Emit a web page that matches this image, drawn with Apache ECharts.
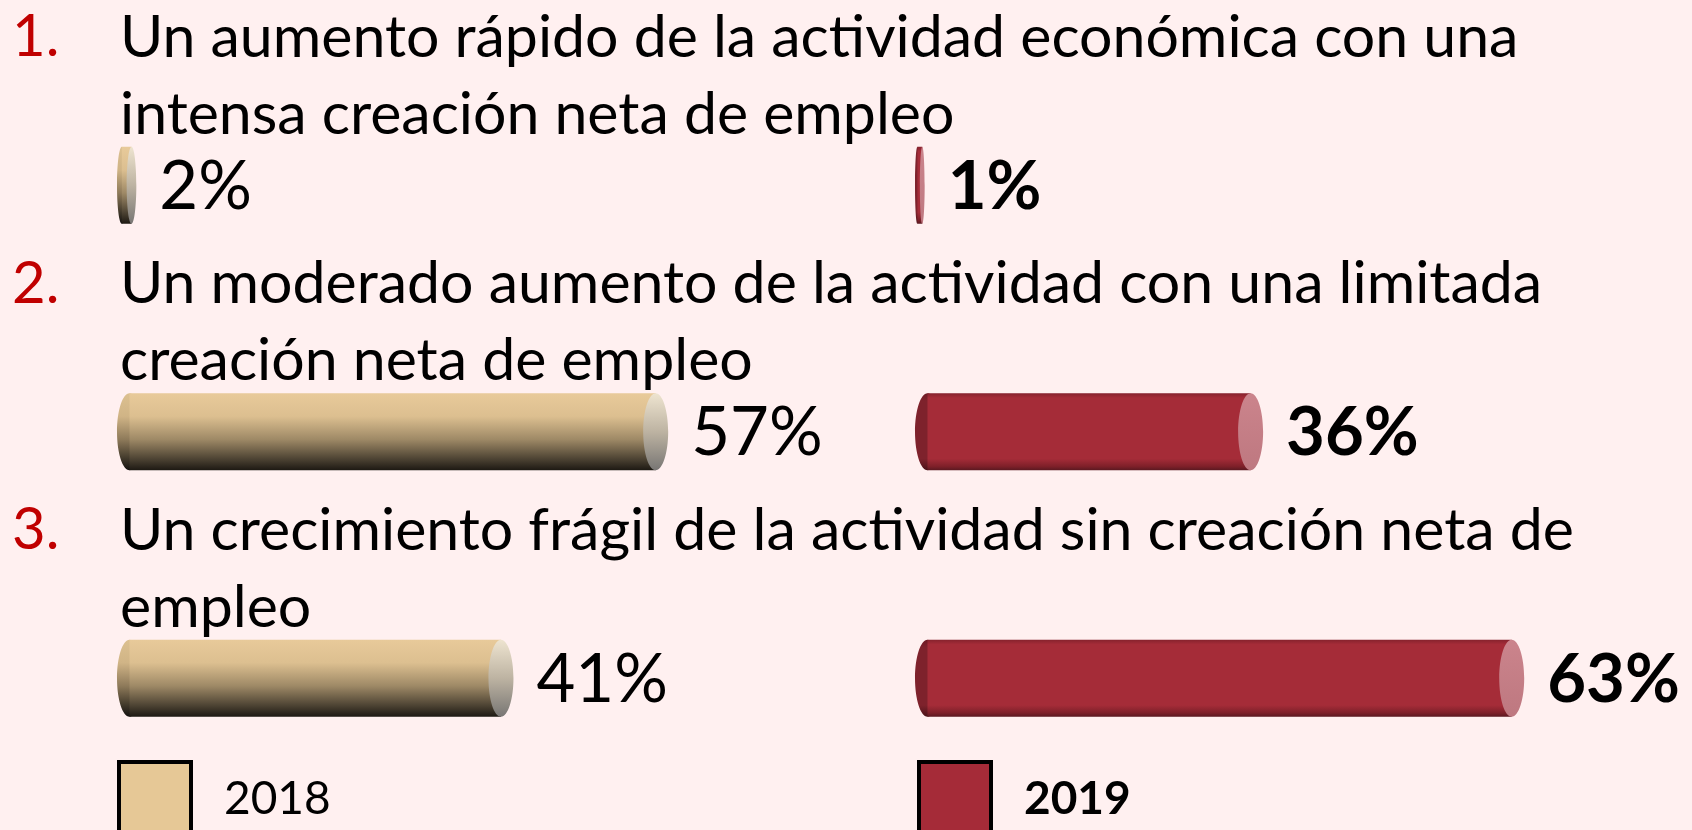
<!DOCTYPE html>
<html>
<head>
<meta charset="utf-8">
<script src="https://cdn.jsdelivr.net/npm/echarts@6/dist/echarts.min.js"></script>
<style>html,body{margin:0;padding:0;background:#FFF0F0}#c{width:1692px;height:830px}</style>
</head>
<body>
<div id="c"></div>
<script>
// ---- data ----
const categories = [
  "Un aumento rápido de la actividad económica con una\nintensa creación neta de empleo",
  "Un moderado aumento de la actividad con una limitada\ncreación neta de empleo",
  "Un crecimiento frágil de la actividad sin creación neta de\nempleo"
];
const itemNumbers = ["1.", "2.", "3."];
const seriesNames = ["2018", "2019"];
const values2018 = [2, 57, 41];
const values2019 = [1, 36, 63];

// ---- style ----
const FONT = "Lato, 'Open Sans', sans-serif";
const BAR_H = 77;
const AXIS_MAX = 80;
const PX_PER_UNIT = 9.67;
const styles = {
  "2018": {
    flat: "#E6C896",
    body: [[0, "#E8CA9A"], [0.3, "#DCBF90"], [0.6, "#9E8966"], [0.85, "#4E4434"], [1, "#1D1913"]],
    left: [[0, "#DCC090"], [0.3, "#D0B486"], [0.6, "#8E7A5A"], [0.85, "#40382A"], [1, "#141110"]],
    cap: [[0, "#EEE4D0"], [0.5, "#BDB3A2"], [1, "#787674"]],
    labelWeight: "normal"
  },
  "2019": {
    flat: "#A52B38",
    body: [[0, "#86222D"], [0.06, "#A52C38"], [0.85, "#A52C38"], [0.95, "#7E2029"], [1, "#5A1820"]],
    left: [[0, "#6E1A24"], [0.1, "#7E222C"], [0.85, "#7E222C"], [1, "#4A1218"]],
    cap: [[0, "#CB848C"], [1, "#BE7880"]],
    labelWeight: "bold"
  }
};
function grad(stops) {
  return new echarts.graphic.LinearGradient(0, 0, 0, 1, stops.map(s => ({offset: s[0], color: s[1]})));
}
function makeRender(name) {
  const st = styles[name];
  return function (params, api) {
    const cat = api.value(1);
    const v = api.value(0);
    const p0 = api.coord([0, cat]);
    const p1 = api.coord([v, cat]);
    const xl = p0[0], xr = p1[0], cy = p0[1];
    const w = xr - xl;
    const rx = Math.min(12.5, w / 4);
    const ry = BAR_H / 2;
    const top = cy - ry;
    const children = [
      {type: "ellipse", shape: {cx: xl + rx, cy: cy, rx: rx, ry: ry}, style: {fill: grad(st.left)}},
      {type: "rect", shape: {x: xl + rx, y: top, width: Math.max(0, w - 2 * rx), height: BAR_H}, style: {fill: grad(st.body)}},
      {type: "ellipse", shape: {cx: xr - rx, cy: cy, rx: rx, ry: ry}, style: {fill: grad(st.cap)}},
      {type: "text", x: xr + 23, y: cy + 2, style: {
        text: v + "%", fill: "#000", fontFamily: FONT, fontSize: 67, fontWeight: st.labelWeight,
        align: "left", verticalAlign: "middle"
      }}
    ];
    return {type: "group", children: children};
  };
}

const GRID_TOP = 62, BAND = 246.5;
const chart = echarts.init(document.getElementById("c"), null, {renderer: "canvas"});
const yAxisBase = {type: "category", data: categories, inverse: true, show: false};
const xAxisBase = {type: "value", min: 0, max: AXIS_MAX, show: false};
const option = {
  backgroundColor: "#FFF0F0",
  animation: false,
  grid: [
    {left: 117, width: AXIS_MAX * PX_PER_UNIT, top: GRID_TOP, height: BAND * 3},
    {left: 915, width: AXIS_MAX * PX_PER_UNIT, top: GRID_TOP, height: BAND * 3}
  ],
  xAxis: [Object.assign({gridIndex: 0}, xAxisBase), Object.assign({gridIndex: 1}, xAxisBase)],
  yAxis: [Object.assign({gridIndex: 0}, yAxisBase), Object.assign({gridIndex: 1}, yAxisBase)],
  legend: seriesNames.map((n, i) => ({
    left: i === 0 ? 117 : 917, top: 760, padding: 0,
    itemWidth: 72, itemHeight: 74, icon: "rect", selectedMode: false,
    data: [{name: n, itemStyle: {color: styles[n].flat, borderColor: "#000", borderWidth: 4}}],
    textStyle: {fontFamily: FONT, fontSize: 46, color: "#000", fontWeight: styles[n].labelWeight, padding: [14, 0, 0, 28]}
  })),
  series: [
    {name: seriesNames[0], type: "custom", xAxisIndex: 0, yAxisIndex: 0,
     itemStyle: {color: styles["2018"].flat},
     encode: {x: 0, y: 1}, renderItem: makeRender("2018"),
     data: values2018.map((v, i) => [v, i])},
    {name: seriesNames[1], type: "custom", xAxisIndex: 1, yAxisIndex: 1,
     itemStyle: {color: styles["2019"].flat},
     encode: {x: 0, y: 1}, renderItem: makeRender("2019"),
     data: values2019.map((v, i) => [v, i])}
  ]
};
chart.setOption(option);

// category descriptions placed above each row, positioned from the category axis
const graphics = [];
categories.forEach((c, i) => {
  const cy = chart.convertToPixel({yAxisIndex: 0}, i);
  const yTop = cy - 186;
  graphics.push({type: "text", left: 12, top: yTop, style: {
    text: itemNumbers[i], fill: "#C00000", fontFamily: FONT, fontSize: 58, lineHeight: 77
  }});
  graphics.push({type: "text", left: 120, top: yTop, style: {
    text: c, fill: "#000", fontFamily: FONT, fontSize: 59, lineHeight: 77
  }});
});
chart.setOption({graphic: graphics});
</script>
</body>
</html>
